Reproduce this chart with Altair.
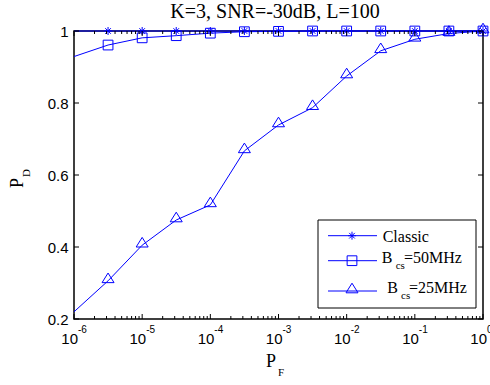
import altair as alt
import pandas as pd

# ---- data ----
pf = [1e-6, 3.16e-6, 1e-5, 3.16e-5, 1e-4, 3.16e-4, 1e-3, 3.16e-3, 1e-2, 3.16e-2, 1e-1, 3.16e-1, 1.0]
classic = [1.0, 1.0, 1.0, 1.0, 1.0, 1.0, 1.0, 1.0, 1.0, 1.0, 1.0, 1.0, 1.0]
bcs50 = [0.929, 0.961, 0.981, 0.987, 0.994, 0.998, 0.999, 1.0, 1.0, 1.0, 1.0, 1.0, 1.0]
bcs25 = [0.22, 0.306, 0.405, 0.475, 0.517, 0.667, 0.739, 0.787, 0.875, 0.945, 0.977, 0.993, 1.0]
series_names = ["Classic", "Bcs=50MHz", "Bcs=25MHz"]

decades = [1e-6, 1e-5, 1e-4, 1e-3, 1e-2, 1e-1, 1.0]
dec_exp = ["-6", "-5", "-4", "-3", "-2", "-1", "0"]
y_ticks = [0.2, 0.4, 0.6, 0.8, 1.0]
minor_mult = [2, 3, 4, 5, 6, 7, 8, 9]

W, H = 409, 288
BLUE = "#0000ff"
SERIF = "Liberation Serif"
SANS = "Liberation Sans"

ASTERISK = "M0,-1L0,1M-1,0L1,0M-0.7,-0.7L0.7,0.7M-0.7,0.7L0.7,-0.7"
TRIANGLE = "M0,-1.3L1,0.3L-1,0.3Z"

df = pd.DataFrame({
    "pf": pf * 3,
    "pd": classic + bcs50 + bcs25,
    "series": [series_names[0]] * len(pf) + [series_names[1]] * len(pf) + [series_names[2]] * len(pf),
})

x_scale = alt.Scale(type="log", domain=[1e-6, 1], nice=False)
y_scale = alt.Scale(domain=[0.2, 1], nice=False, zero=False)

X = alt.X("pf:Q", scale=x_scale, axis=None)

lines = alt.Chart(df).mark_line(color=BLUE, strokeWidth=1).encode(
    x=X,
    y=alt.Y("pd:Q", scale=y_scale,
            axis=alt.Axis(values=y_ticks, ticks=False, domain=False, grid=False,
                          labelFont=SANS, labelFontSize=15, labelColor="black",
                          labelPadding=6, title=None, format="~g")),
    detail="series:N",
)

def markers(name, shape, size):
    return alt.Chart(df).transform_filter(
        (alt.datum.series == name) & (alt.datum.pf > 2e-6)
    ).mark_point(shape=shape, size=size, filled=False, color=BLUE, strokeWidth=1, opacity=1).encode(
        x=X, y=alt.Y("pd:Q", scale=y_scale)
    )

m_classic = markers(series_names[0], ASTERISK, 64)
m_50 = markers(series_names[1], "square", 95)
m_25 = markers(series_names[2], TRIANGLE, 144)

# ---- inward ticks (MATLAB style box) ----
major_df = pd.DataFrame({"v": decades})
minor_df = pd.DataFrame({"v": [m * d for d in decades[:-1] for m in minor_mult]})
ytick_df = pd.DataFrame({"v": y_ticks})

def xticks(data, length):
    xx = alt.X("v:Q", scale=x_scale, axis=None)
    bottom = alt.Chart(data).mark_rule(color="black", strokeWidth=1).encode(
        x=xx, y=alt.value(H), y2=alt.value(H - length))
    top = alt.Chart(data).mark_rule(color="black", strokeWidth=1).encode(
        x=xx, y=alt.value(0), y2=alt.value(length))
    return bottom + top

yy = alt.Y("v:Q", scale=y_scale)
yticks_left = alt.Chart(ytick_df).mark_rule(color="black", strokeWidth=1).encode(
    y=yy, x=alt.value(0), x2=alt.value(5))
yticks_right = alt.Chart(ytick_df).mark_rule(color="black", strokeWidth=1).encode(
    y=yy, x=alt.value(W), x2=alt.value(W - 5))

# ---- x tick labels 10^k ----
lab_df = pd.DataFrame({"v": decades, "e": dec_exp})
xl_base = alt.Chart(lab_df).mark_text(
    text="10", font=SANS, fontSize=15, align="right", baseline="alphabetic", dx=4, color="black"
).encode(x=alt.X("v:Q", scale=x_scale, axis=None), y=alt.value(313))
xl_exp = alt.Chart(lab_df).mark_text(
    font=SANS, fontSize=10, align="left", baseline="alphabetic", dx=4, color="black"
).encode(x=alt.X("v:Q", scale=x_scale, axis=None), y=alt.value(302), text="e:N")

one = pd.DataFrame({"a": [0]})

def txt(s, x, y, size, font=SERIF, angle=0):
    return alt.Chart(one).mark_text(
        text=s, font=font, fontSize=size, align="left", baseline="alphabetic",
        color="black", angle=angle
    ).encode(x=alt.value(x), y=alt.value(y))

title = alt.Chart(one).mark_text(
    text="K=3, SNR=-30dB, L=100", font=SERIF, fontSize=20, align="center",
    baseline="alphabetic", color="black"
).encode(x=alt.value(201), y=alt.value(-13.5))

xlabel = txt("P", 192, 336, 18) + txt("F", 204, 345, 11)
ylabel = txt("P", -51, 157, 18, angle=270) + txt("D", -44, 146, 11, angle=270)

# ---- legend ----
leg_box = alt.Chart(one).mark_rect(fill="white", stroke="black", strokeWidth=1).encode(
    x=alt.value(244), x2=alt.value(402), y=alt.value(189), y2=alt.value(277))

def leg_row(y, shape, size):
    ln = alt.Chart(one).mark_rule(color=BLUE, strokeWidth=1).encode(
        x=alt.value(254), x2=alt.value(303), y=alt.value(y))
    pt = alt.Chart(one).mark_point(shape=shape, size=size, filled=False, color=BLUE,
                                   strokeWidth=1, opacity=1).encode(
        x=alt.value(278), y=alt.value(y))
    return ln + pt

legend = (
    leg_box
    + leg_row(204.7, ASTERISK, 64)
    + leg_row(229.7, "square", 95)
    + leg_row(260, TRIANGLE, 144)
    + txt("Classic", 308.7, 210.5, 16)
    + txt("B", 307.7, 232.3, 16) + txt("cs", 321.7, 238, 11) + txt("=50MHz", 330, 232.3, 16)
    + txt("B", 313.3, 262.3, 16) + txt("cs", 327, 268, 11) + txt("=25MHz", 335, 262.3, 16)
)

chart = alt.layer(
    lines, m_classic, m_50, m_25,
    xticks(major_df, 5), xticks(minor_df, 3), yticks_left, yticks_right,
    xl_base, xl_exp, title, xlabel, ylabel, legend,
).properties(
    width=W, height=H,
    autosize=alt.AutoSizeParams(type="none"),
    padding={"left": 74, "top": 31, "right": 7, "bottom": 66},
).configure_view(stroke="black", strokeWidth=1.5)

chart.save("out.html", embed_options={"renderer": "svg", "actions": False})
